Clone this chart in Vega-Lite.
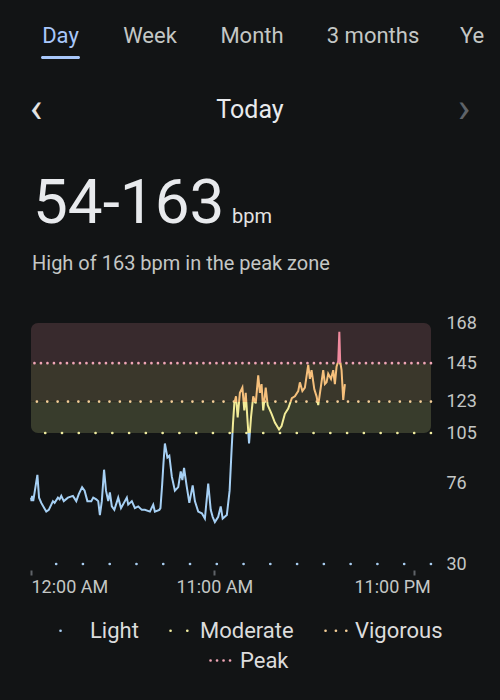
{
  "$schema": "https://vega.github.io/schema/vega-lite/v6.json",
  "background": "#121415",
  "padding": 0,
  "spacing": 0,
  "bounds": "full",
  "config": {
    "view": {"stroke": null},
    "font": "Roboto",
    "concat": {"spacing": 0},
    "text": {"font": "Roboto"}
  },
  "datasets": {
    "zones": [
      {"zone": "Moderate", "lo": 105, "hi": 123},
      {"zone": "Vigorous", "lo": 123, "hi": 145},
      {"zone": "Peak", "lo": 145, "hi": 168}
    ],
    "thresholds": [
      {"zone": "Light", "bpm": 30},
      {"zone": "Moderate", "bpm": 105},
      {"zone": "Vigorous", "bpm": 123},
      {"zone": "Peak", "bpm": 145}
    ],
    "hr": [
      {"t": "00:00", "bpm": 68}, {"t": "00:02", "bpm": 66}, {"t": "00:04", "bpm": 69}, {"t": "00:08", "bpm": 66},
      {"t": "00:23", "bpm": 81}, {"t": "00:29", "bpm": 68}, {"t": "00:37", "bpm": 65}, {"t": "00:55", "bpm": 60},
      {"t": "01:04", "bpm": 61}, {"t": "01:19", "bpm": 66}, {"t": "01:25", "bpm": 65}, {"t": "01:37", "bpm": 68},
      {"t": "01:43", "bpm": 67}, {"t": "01:49", "bpm": 69}, {"t": "01:58", "bpm": 66}, {"t": "02:13", "bpm": 68},
      {"t": "02:31", "bpm": 69}, {"t": "02:43", "bpm": 66}, {"t": "02:52", "bpm": 70}, {"t": "03:04", "bpm": 74},
      {"t": "03:13", "bpm": 72}, {"t": "03:23", "bpm": 66}, {"t": "03:37", "bpm": 66}, {"t": "03:44", "bpm": 68},
      {"t": "03:55", "bpm": 67}, {"t": "04:02", "bpm": 66}, {"t": "04:08", "bpm": 58}, {"t": "04:15", "bpm": 66},
      {"t": "04:23", "bpm": 84}, {"t": "04:30", "bpm": 72}, {"t": "04:38", "bpm": 66}, {"t": "04:44", "bpm": 71},
      {"t": "04:51", "bpm": 63}, {"t": "05:00", "bpm": 61}, {"t": "05:14", "bpm": 68}, {"t": "05:24", "bpm": 62},
      {"t": "05:45", "bpm": 68}, {"t": "05:50", "bpm": 64}, {"t": "06:03", "bpm": 66}, {"t": "06:14", "bpm": 62},
      {"t": "06:26", "bpm": 63}, {"t": "06:39", "bpm": 61}, {"t": "06:50", "bpm": 61}, {"t": "07:08", "bpm": 60},
      {"t": "07:20", "bpm": 64}, {"t": "07:26", "bpm": 60}, {"t": "07:42", "bpm": 61}, {"t": "07:46", "bpm": 62},
      {"t": "07:52", "bpm": 75}, {"t": "07:57", "bpm": 88}, {"t": "08:02", "bpm": 99}, {"t": "08:11", "bpm": 91},
      {"t": "08:18", "bpm": 92}, {"t": "08:27", "bpm": 80}, {"t": "08:38", "bpm": 72}, {"t": "08:50", "bpm": 74},
      {"t": "08:59", "bpm": 83}, {"t": "09:05", "bpm": 78}, {"t": "09:11", "bpm": 85}, {"t": "09:20", "bpm": 75},
      {"t": "09:30", "bpm": 65}, {"t": "09:42", "bpm": 75}, {"t": "09:50", "bpm": 66}, {"t": "10:02", "bpm": 60},
      {"t": "10:15", "bpm": 59}, {"t": "10:26", "bpm": 56}, {"t": "10:38", "bpm": 76}, {"t": "10:47", "bpm": 61},
      {"t": "10:54", "bpm": 57}, {"t": "11:02", "bpm": 54}, {"t": "11:14", "bpm": 57}, {"t": "11:23", "bpm": 63},
      {"t": "11:30", "bpm": 56}, {"t": "11:45", "bpm": 58}, {"t": "11:55", "bpm": 72}, {"t": "12:02", "bpm": 95},
      {"t": "12:07", "bpm": 110}, {"t": "12:12", "bpm": 122}, {"t": "12:18", "bpm": 126}, {"t": "12:24", "bpm": 114},
      {"t": "12:32", "bpm": 128}, {"t": "12:41", "bpm": 131}, {"t": "12:48", "bpm": 118}, {"t": "12:53", "bpm": 128},
      {"t": "13:00", "bpm": 111}, {"t": "13:05", "bpm": 99}, {"t": "13:12", "bpm": 114}, {"t": "13:20", "bpm": 126},
      {"t": "13:29", "bpm": 122}, {"t": "13:38", "bpm": 138}, {"t": "13:44", "bpm": 128}, {"t": "13:50", "bpm": 133},
      {"t": "13:56", "bpm": 118}, {"t": "14:05", "bpm": 131}, {"t": "14:12", "bpm": 121}, {"t": "14:26", "bpm": 116},
      {"t": "14:38", "bpm": 111}, {"t": "14:53", "bpm": 107}, {"t": "15:02", "bpm": 109}, {"t": "15:14", "bpm": 116},
      {"t": "15:26", "bpm": 119}, {"t": "15:39", "bpm": 125}, {"t": "15:50", "bpm": 126}, {"t": "16:02", "bpm": 129},
      {"t": "16:08", "bpm": 134}, {"t": "16:17", "bpm": 129}, {"t": "16:26", "bpm": 131}, {"t": "16:38", "bpm": 144},
      {"t": "16:44", "bpm": 136}, {"t": "16:50", "bpm": 141}, {"t": "17:00", "bpm": 130}, {"t": "17:08", "bpm": 126},
      {"t": "17:14", "bpm": 121}, {"t": "17:24", "bpm": 132}, {"t": "17:32", "bpm": 141}, {"t": "17:38", "bpm": 133},
      {"t": "17:44", "bpm": 134}, {"t": "17:50", "bpm": 139}, {"t": "18:00", "bpm": 136}, {"t": "18:08", "bpm": 141},
      {"t": "18:14", "bpm": 133}, {"t": "18:20", "bpm": 143}, {"t": "18:26", "bpm": 146}, {"t": "18:30", "bpm": 163},
      {"t": "18:33", "bpm": 146}, {"t": "18:38", "bpm": 141}, {"t": "18:44", "bpm": 124}, {"t": "18:50", "bpm": 133}
    ]
  },
  "vconcat": [
    {
      "spacing": 0,
      "bounds": "flush",
      "hconcat": [
        {"width": 121, "height": 56, "data": {"values": [{"label": "Day"}]}, "mark": {"type": "text", "fontSize": 22, "baseline": "top", "dy": -2, "color": "#a8c7fa"}, "encoding": {"text": {"field": "label", "type": "nominal"}}},
        {"width": 58, "height": 56, "data": {"values": [{"label": "Week"}]}, "mark": {"type": "text", "fontSize": 22, "baseline": "top", "dy": -2, "color": "#c4c7c5"}, "encoding": {"text": {"field": "label", "type": "nominal"}}},
        {"width": 146, "height": 56, "data": {"values": [{"label": "Month"}]}, "mark": {"type": "text", "fontSize": 22, "baseline": "top", "dy": -2, "color": "#c4c7c5"}, "encoding": {"text": {"field": "label", "type": "nominal"}}},
        {"width": 96, "height": 56, "data": {"values": [{"label": "3 months"}]}, "mark": {"type": "text", "fontSize": 22, "baseline": "top", "dy": -2, "color": "#c4c7c5"}, "encoding": {"text": {"field": "label", "type": "nominal"}}},
        {"width": 78, "height": 56, "data": {"values": [{"label": "Ye"}]}, "mark": {"type": "text", "fontSize": 22, "baseline": "top", "dy": -2, "align": "left", "color": "#c4c7c5"}, "encoding": {"text": {"field": "label", "type": "nominal"}}}
      ]
    },
    {
      "spacing": 0,
      "bounds": "flush",
      "hconcat": [
        {"width": 41, "height": 3, "data": {"values": []}, "mark": "rect", "encoding": {}},
        {"width": 39, "height": 3, "data": {"values": [{"label": "Day"}]}, "mark": {"type": "rect", "color": "#a8c7fa", "cornerRadius": 1.5}, "encoding": {}}
      ]
    },
    {
      "spacing": 0,
      "bounds": "flush",
      "hconcat": [
        {"width": 72, "height": 78, "data": {"values": [{"label": "‹"}]}, "mark": {"type": "text", "fontSize": 42, "baseline": "alphabetic", "dy": 24, "color": "#e3e3e3"}, "encoding": {"text": {"field": "label", "type": "nominal"}}},
        {"width": 356, "height": 78, "data": {"values": [{"label": "Today"}]}, "mark": {"type": "text", "fontSize": 25, "baseline": "top", "color": "#e8eaed"}, "encoding": {"text": {"field": "label", "type": "nominal"}}},
        {"width": 72, "height": 78, "data": {"values": [{"label": "›"}]}, "mark": {"type": "text", "fontSize": 42, "baseline": "alphabetic", "dy": 24, "color": "#5f6368"}, "encoding": {"text": {"field": "label", "type": "nominal"}}}
      ]
    },
    {
      "spacing": 0,
      "bounds": "flush",
      "hconcat": [
        {"width": 66, "height": 100, "data": {"values": [{"label": "54-163"}]}, "mark": {"type": "text", "fontSize": 62, "baseline": "alphabetic", "align": "left", "dy": 36, "color": "#e8eaed"}, "encoding": {"text": {"field": "label", "type": "nominal"}}},
        {"width": 332, "height": 100, "data": {"values": [{"label": "bpm"}]}, "mark": {"type": "text", "fontSize": 20, "baseline": "alphabetic", "align": "left", "dy": 36, "color": "#e3e3e3"}, "encoding": {"text": {"field": "label", "type": "nominal"}}}
      ]
    },
    {"width": 64, "height": 77, "data": {"values": [{"label": "High of 163 bpm in the peak zone"}]}, "mark": {"type": "text", "fontSize": 20, "baseline": "alphabetic", "align": "left", "dy": -6, "color": "#c4c7c5"}, "encoding": {"text": {"field": "label", "type": "nominal"}}},
    {
      "spacing": 0,
      "bounds": "flush",
      "hconcat": [
        {"width": 31, "height": 241, "data": {"values": []}, "mark": "rect", "encoding": {}},
        {
          "width": 400,
          "height": 241,
          "layer": [
            {
              "data": {"name": "zones"},
              "transform": [{"filter": "datum.zone == 'Peak'"}],
              "mark": {"type": "rect", "cornerRadiusTopLeft": 7, "cornerRadiusTopRight": 7},
              "encoding": {
                "y": {"field": "lo", "type": "quantitative", "scale": {"domain": [30, 168], "nice": false, "zero": false}, "axis": {"orient": "right", "title": null, "values": [30, 76, 105, 123, 145, 168], "domain": false, "ticks": false, "grid": false, "labelPadding": 15, "labelFontSize": 18, "labelFont": "Roboto", "labelColor": "#c4c7c5"}},
                "y2": {"field": "hi"},
                "fill": {"field": "zone", "type": "nominal", "scale": {"domain": ["Moderate", "Vigorous", "Peak"], "range": ["#383c2c", "#3a372b", "#382a2d"]}, "legend": null}
              }
            },
            {
              "data": {"name": "zones"},
              "transform": [{"filter": "datum.zone == 'Vigorous'"}],
              "mark": {"type": "rect"},
              "encoding": {
                "y": {"field": "lo", "type": "quantitative", "scale": {"domain": [30, 168], "nice": false, "zero": false}, "axis": {"orient": "right", "title": null, "values": [30, 76, 105, 123, 145, 168], "domain": false, "ticks": false, "grid": false, "labelPadding": 15, "labelFontSize": 18, "labelFont": "Roboto", "labelColor": "#c4c7c5"}},
                "y2": {"field": "hi"},
                "fill": {"field": "zone", "type": "nominal", "scale": {"domain": ["Moderate", "Vigorous", "Peak"], "range": ["#383c2c", "#3a372b", "#382a2d"]}, "legend": null}
              }
            },
            {
              "data": {"name": "zones"},
              "transform": [{"filter": "datum.zone == 'Moderate'"}],
              "mark": {"type": "rect", "cornerRadiusBottomLeft": 7, "cornerRadiusBottomRight": 7},
              "encoding": {
                "y": {"field": "lo", "type": "quantitative", "scale": {"domain": [30, 168], "nice": false, "zero": false}, "axis": {"orient": "right", "title": null, "values": [30, 76, 105, 123, 145, 168], "domain": false, "ticks": false, "grid": false, "labelPadding": 15, "labelFontSize": 18, "labelFont": "Roboto", "labelColor": "#c4c7c5"}},
                "y2": {"field": "hi"},
                "fill": {"field": "zone", "type": "nominal", "scale": {"domain": ["Moderate", "Vigorous", "Peak"], "range": ["#383c2c", "#3a372b", "#382a2d"]}, "legend": null}
              }
            },
            {
              "data": {"name": "thresholds"},
              "transform": [{"filter": "datum.zone != 'Peak'"}],
              "mark": {"type": "rule", "strokeCap": "round", "strokeWidth": 2.6},
              "encoding": {
                "y": {"field": "bpm", "type": "quantitative", "scale": {"domain": [30, 168], "nice": false, "zero": false}, "axis": {"orient": "right", "title": null, "values": [30, 76, 105, 123, 145, 168], "domain": false, "ticks": false, "grid": false, "labelPadding": 15, "labelFontSize": 18, "labelFont": "Roboto", "labelColor": "#c4c7c5"}},
                "color": {
                  "field": "zone", "type": "nominal",
                  "scale": {"domain": ["Light", "Moderate", "Vigorous"], "range": ["#a8cdf0", "#f0eca0", "#f5cf98"]},
                  "legend": {"title": null, "orient": "none", "legendX": 59, "legendY": 618, "direction": "horizontal", "symbolType": "stroke", "symbolSize": 484, "symbolStrokeWidth": 2.6, "labelFontSize": 22, "labelFont": "Roboto", "labelColor": "#dcdcdc", "labelOffset": 6, "columnPadding": 26, "encode": {"symbols": {"update": {"strokeCap": {"value": "round"}}}}}
                },
                "strokeDash": {
                  "field": "zone", "type": "nominal",
                  "scale": {"domain": ["Light", "Moderate", "Vigorous"], "range": [[0.1, 26.67], [0.1, 16.67], [0.1, 10.27]]},
                  "legend": {"title": null, "orient": "none", "legendX": 59, "legendY": 618, "direction": "horizontal", "symbolType": "stroke", "symbolSize": 484, "symbolStrokeWidth": 2.6, "labelFontSize": 22, "labelFont": "Roboto", "labelColor": "#dcdcdc", "labelOffset": 6, "columnPadding": 26, "encode": {"symbols": {"update": {"strokeCap": {"value": "round"}}}}}
                }
              }
            },
            {
              "data": {"name": "thresholds"},
              "transform": [{"filter": "datum.zone == 'Peak'"}],
              "mark": {"type": "rule", "strokeCap": "round", "strokeWidth": 2.6, "strokeDash": [0.1, 6.4]},
              "encoding": {
                "y": {"field": "bpm", "type": "quantitative", "scale": {"domain": [30, 168], "nice": false, "zero": false}, "axis": {"orient": "right", "title": null, "values": [30, 76, 105, 123, 145, 168], "domain": false, "ticks": false, "grid": false, "labelPadding": 15, "labelFontSize": 18, "labelFont": "Roboto", "labelColor": "#c4c7c5"}},
                "stroke": {
                  "field": "zone", "type": "nominal",
                  "scale": {"domain": ["Peak"], "range": ["#f0a6b6"]},
                  "legend": {"title": null, "orient": "none", "legendX": 209, "legendY": 648, "direction": "horizontal", "symbolType": "stroke", "symbolSize": 484, "symbolStrokeWidth": 2.6, "symbolDash": [0.1, 6.4], "labelFontSize": 22, "labelFont": "Roboto", "labelColor": "#dcdcdc", "labelOffset": 6, "encode": {"symbols": {"update": {"strokeCap": {"value": "round"}}}}}
                }
              }
            },
            {
              "data": {"name": "hr", "format": {"parse": {"t": "utc:'%H:%M'"}}},
              "mark": {
                "type": "line",
                "strokeWidth": 2,
                "stroke": {
                  "gradient": "linear", "x1": 0, "y1": 0, "x2": 0, "y2": 1,
                  "stops": [
                    {"offset": 0, "color": "#f08a9e"},
                    {"offset": 0.1651, "color": "#f08a9e"},
                    {"offset": 0.1651, "color": "#f6c07c"},
                    {"offset": 0.367, "color": "#f6c07c"},
                    {"offset": 0.367, "color": "#f2ec98"},
                    {"offset": 0.5321, "color": "#f2ec98"},
                    {"offset": 0.5321, "color": "#a6d0f4"},
                    {"offset": 1, "color": "#a6d0f4"}
                  ]
                }
              },
              "encoding": {
                "x": {
                  "field": "t", "type": "temporal",
                  "scale": {"type": "utc", "domain": [{"year": 1900, "month": 1, "date": 1, "hours": 0, "utc": true}, {"year": 1900, "month": 1, "date": 2, "hours": 0, "utc": true}]},
                  "axis": {
                    "title": null, "grid": false, "domain": false,
                    "values": [{"year": 1900, "month": 1, "date": 1, "hours": 0, "utc": true}, {"year": 1900, "month": 1, "date": 1, "hours": 11, "utc": true}, {"year": 1900, "month": 1, "date": 1, "hours": 23, "utc": true}],
                    "labelExpr": "utcFormat(datum.value, '%-I:%M %p')",
                    "ticks": true, "tickSize": 5, "tickWidth": 2, "tickColor": "#5f6368", "offset": 6,
                    "labelPadding": 3, "labelFontSize": 18, "labelFont": "Roboto", "labelColor": "#c4c7c5",
                    "labelAlign": {"condition": [{"test": "utchours(datum.value) == 0", "value": "left"}, {"test": "utchours(datum.value) == 23", "value": "right"}], "value": "center"},
                    "labelOffset": {"condition": {"test": "utchours(datum.value) == 23", "value": 16}, "value": 0}
                  }
                },
                "y": {
                  "field": "bpm", "type": "quantitative",
                  "scale": {"domain": [30, 168], "nice": false, "zero": false},
                  "axis": {"orient": "right", "title": null, "values": [30, 76, 105, 123, 145, 168], "domain": false, "ticks": false, "grid": false, "labelPadding": 15, "labelFontSize": 18, "labelFont": "Roboto", "labelColor": "#c4c7c5"}
                }
              }
            }
          ]
        }
      ]
    },
    {"width": 500, "height": 104, "data": {"values": []}, "mark": "rect", "encoding": {}}
  ]
}
